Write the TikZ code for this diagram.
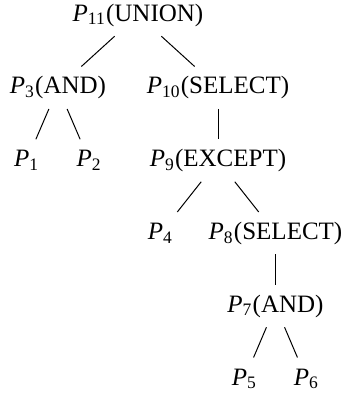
\documentclass[tikz,border=0pt]{standalone}
\usepackage{fontspec}
\setmainfont{Liberation Serif}
\usetikzlibrary{trees}

\begin{document}
\begin{tikzpicture}[
        every node/.style={
            font=\normalsize, inner sep=3.3pt,
            text height=7.5pt, text depth=2.5pt % same box for every label
        },
        level distance=29.1pt,
        level 1/.style={sibling distance=64pt},
        level 2/.style={sibling distance=25pt},
        level 3/.style={sibling distance=46pt},
        level 5/.style={sibling distance=24.8pt}
      ]
        \useasboundingbox (-55.2pt,6pt) rectangle (82pt,-156pt);
        \node (p_11) {\textit{P}\textsubscript{11}(UNION)}
          child { node (p_3) {\textit{P}\textsubscript{3}(AND)}
            child { node (p_1) {\textit{P}\textsubscript{1}} }
            child { node (p_2) {\textit{P}\textsubscript{2}} }
          }
          child { node (p_10) {\textit{P}\textsubscript{10}(SELECT)}
            child { node (p_9) {\textit{P}\textsubscript{9}(EXCEPT)}
              child { node (p_4) {\textit{P}\textsubscript{4}} }
              child { node (p_8) {\textit{P}\textsubscript{8}(SELECT)}
                child { node (p_7) {\textit{P}\textsubscript{7}(AND)}
                  child { node (p_5) {\textit{P}\textsubscript{5}} }
                  child { node (p_6) {\textit{P}\textsubscript{6}} }
                }
              }
            }
          };
      \end{tikzpicture}
\end{document}
